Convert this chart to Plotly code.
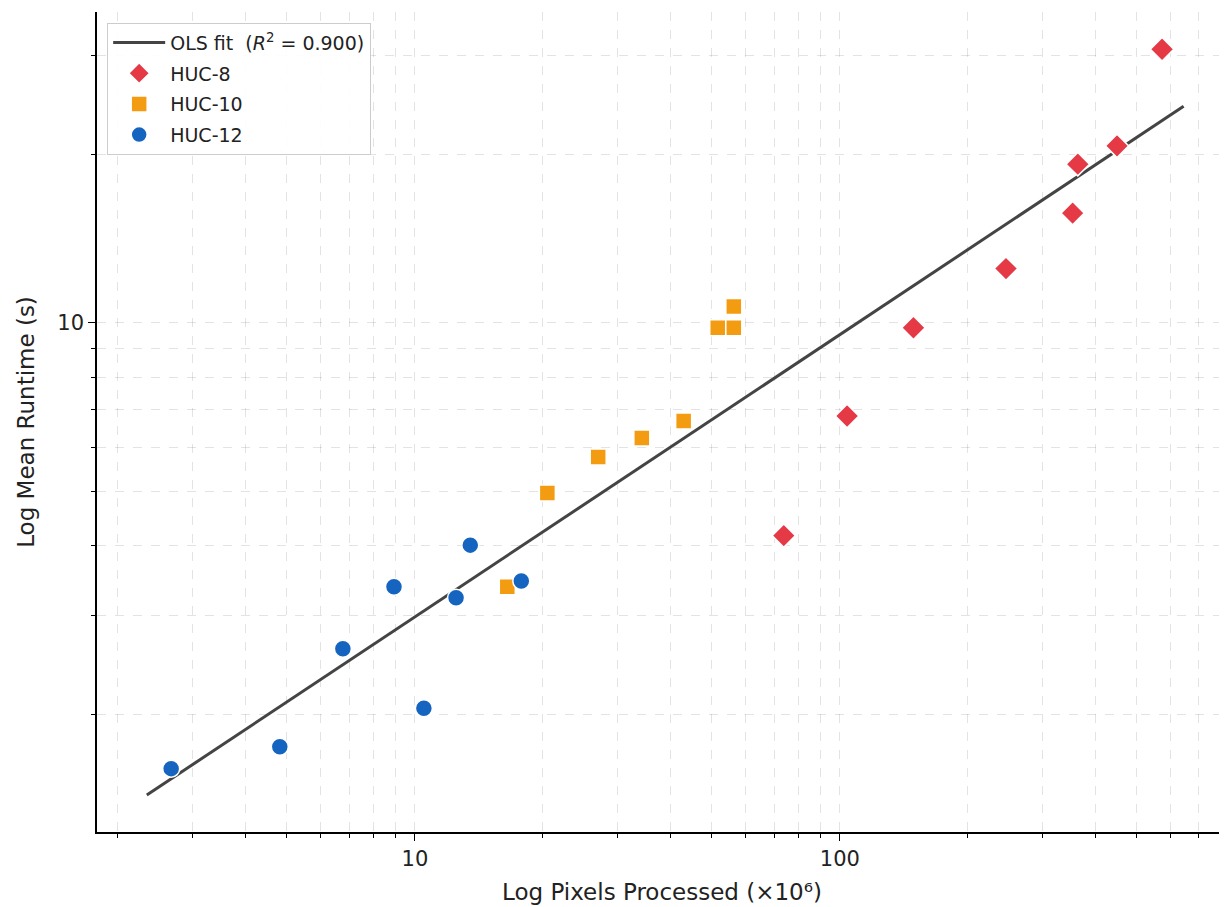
import numpy as np
import plotly.graph_objects as go

# ---- data ----
huc8_pixels = [73.8, 104, 149, 246, 353, 363, 449, 573]
huc8_runtime = [4.17, 6.82, 9.8, 12.5, 15.7, 19.2, 20.7, 30.8]

huc10_pixels = [16.5, 20.5, 27.0, 34.2, 42.9, 51.6, 56.3, 56.3]
huc10_runtime = [3.38, 4.97, 5.76, 6.23, 6.68, 9.8, 9.8, 10.7]

huc12_pixels = [2.67, 4.81, 6.77, 8.93, 10.5, 12.5, 13.5, 17.8]
huc12_runtime = [1.60, 1.75, 2.62, 3.38, 2.05, 3.23, 4.01, 3.46]

fit_slope = 0.504
fit_intercept = -0.029
fit_x_range = [2.34, 644]
r_squared = 0.900

x_major = [10, 100]
x_minor = [2, 3, 4, 5, 6, 7, 8, 9, 20, 30, 40, 50, 60, 70, 80, 90,
           200, 300, 400, 500, 600, 700, 800]
y_major = [10]
y_minor = [2, 3, 4, 5, 6, 7, 8, 9, 20, 30]

# ---- figure ----
fx = np.logspace(np.log10(fit_x_range[0]), np.log10(fit_x_range[1]), 50)
fy = 10 ** (fit_intercept + fit_slope * np.log10(fx))

fig = go.Figure()
fig.add_trace(go.Scatter(
    x=fx, y=fy, mode="lines", legendgroup="fit",
    line=dict(color="#444444", width=3),
    name=f"OLS fit&nbsp;&nbsp;(<i>R</i><sup>2</sup> = {r_squared:.3f})",
))
fig.add_trace(go.Scatter(
    x=huc8_pixels, y=huc8_runtime, mode="markers", name="HUC-8", legendgroup="h8",
    marker=dict(symbol="diamond", size=18, color="#E63946",
                line=dict(color="white", width=1.5)),
))
fig.add_trace(go.Scatter(
    x=huc10_pixels, y=huc10_runtime, mode="markers", name="HUC-10", legendgroup="h10",
    marker=dict(symbol="square", size=16, color="#F39C12",
                line=dict(color="white", width=1.5)),
))
fig.add_trace(go.Scatter(
    x=huc12_pixels, y=huc12_runtime, mode="markers", name="HUC-12", legendgroup="h12",
    marker=dict(symbol="circle", size=17, color="#1565C0",
                line=dict(color="white", width=1.5)),
))

grid = "rgba(0,0,0,0.11)"
axis_common = dict(
    type="log", showline=True, linecolor="black", linewidth=1.5,
    ticks="outside", ticklen=7, tickwidth=1.2, tickcolor="black",
    showgrid=True, gridcolor=grid, griddash="dash", gridwidth=1,
    zeroline=False, mirror=False, automargin=False,
    tickfont=dict(family="DejaVu Sans", size=21, color="#222"),
    title_font=dict(family="DejaVu Sans", size=23, color="#222"),
)

fig.update_layout(
    width=1219, height=899,
    margin=dict(l=89, r=0, t=4, b=75),
    plot_bgcolor="white", paper_bgcolor="white",
    showlegend=True,
    legend=dict(
        x=0.009, y=0.987, xanchor="left", yanchor="top",
        bgcolor="rgba(255,255,255,0.9)", bordercolor="#cccccc", borderwidth=1,
        font=dict(family="DejaVu Sans", size=19, color="#222"),
        tracegroupgap=3, itemwidth=52,
    ),
    xaxis=dict(
        axis_common,
        range=[0.252, 2.911],
        tickmode="array", tickvals=x_major, ticktext=[str(v) for v in x_major],
        minor=dict(tickmode="array", tickvals=x_minor, ticks="outside",
                   ticklen=4, tickcolor="black", showgrid=True,
                   gridcolor=grid, griddash="dash", gridwidth=1),
        title=dict(text="Log Pixels Processed (×10⁶)", standoff=14),
    ),
    yaxis=dict(
        axis_common,
        range=[0.091, 1.555],
        tickmode="array", tickvals=y_major, ticktext=[str(v) for v in y_major],
        minor=dict(tickmode="array", tickvals=y_minor, ticks="outside",
                   ticklen=4, tickcolor="black", showgrid=True,
                   gridcolor=grid, griddash="dash", gridwidth=1),
        title=dict(text="Log Mean Runtime (s)", standoff=16),
    ),
)

fig.write_html("out.html")
